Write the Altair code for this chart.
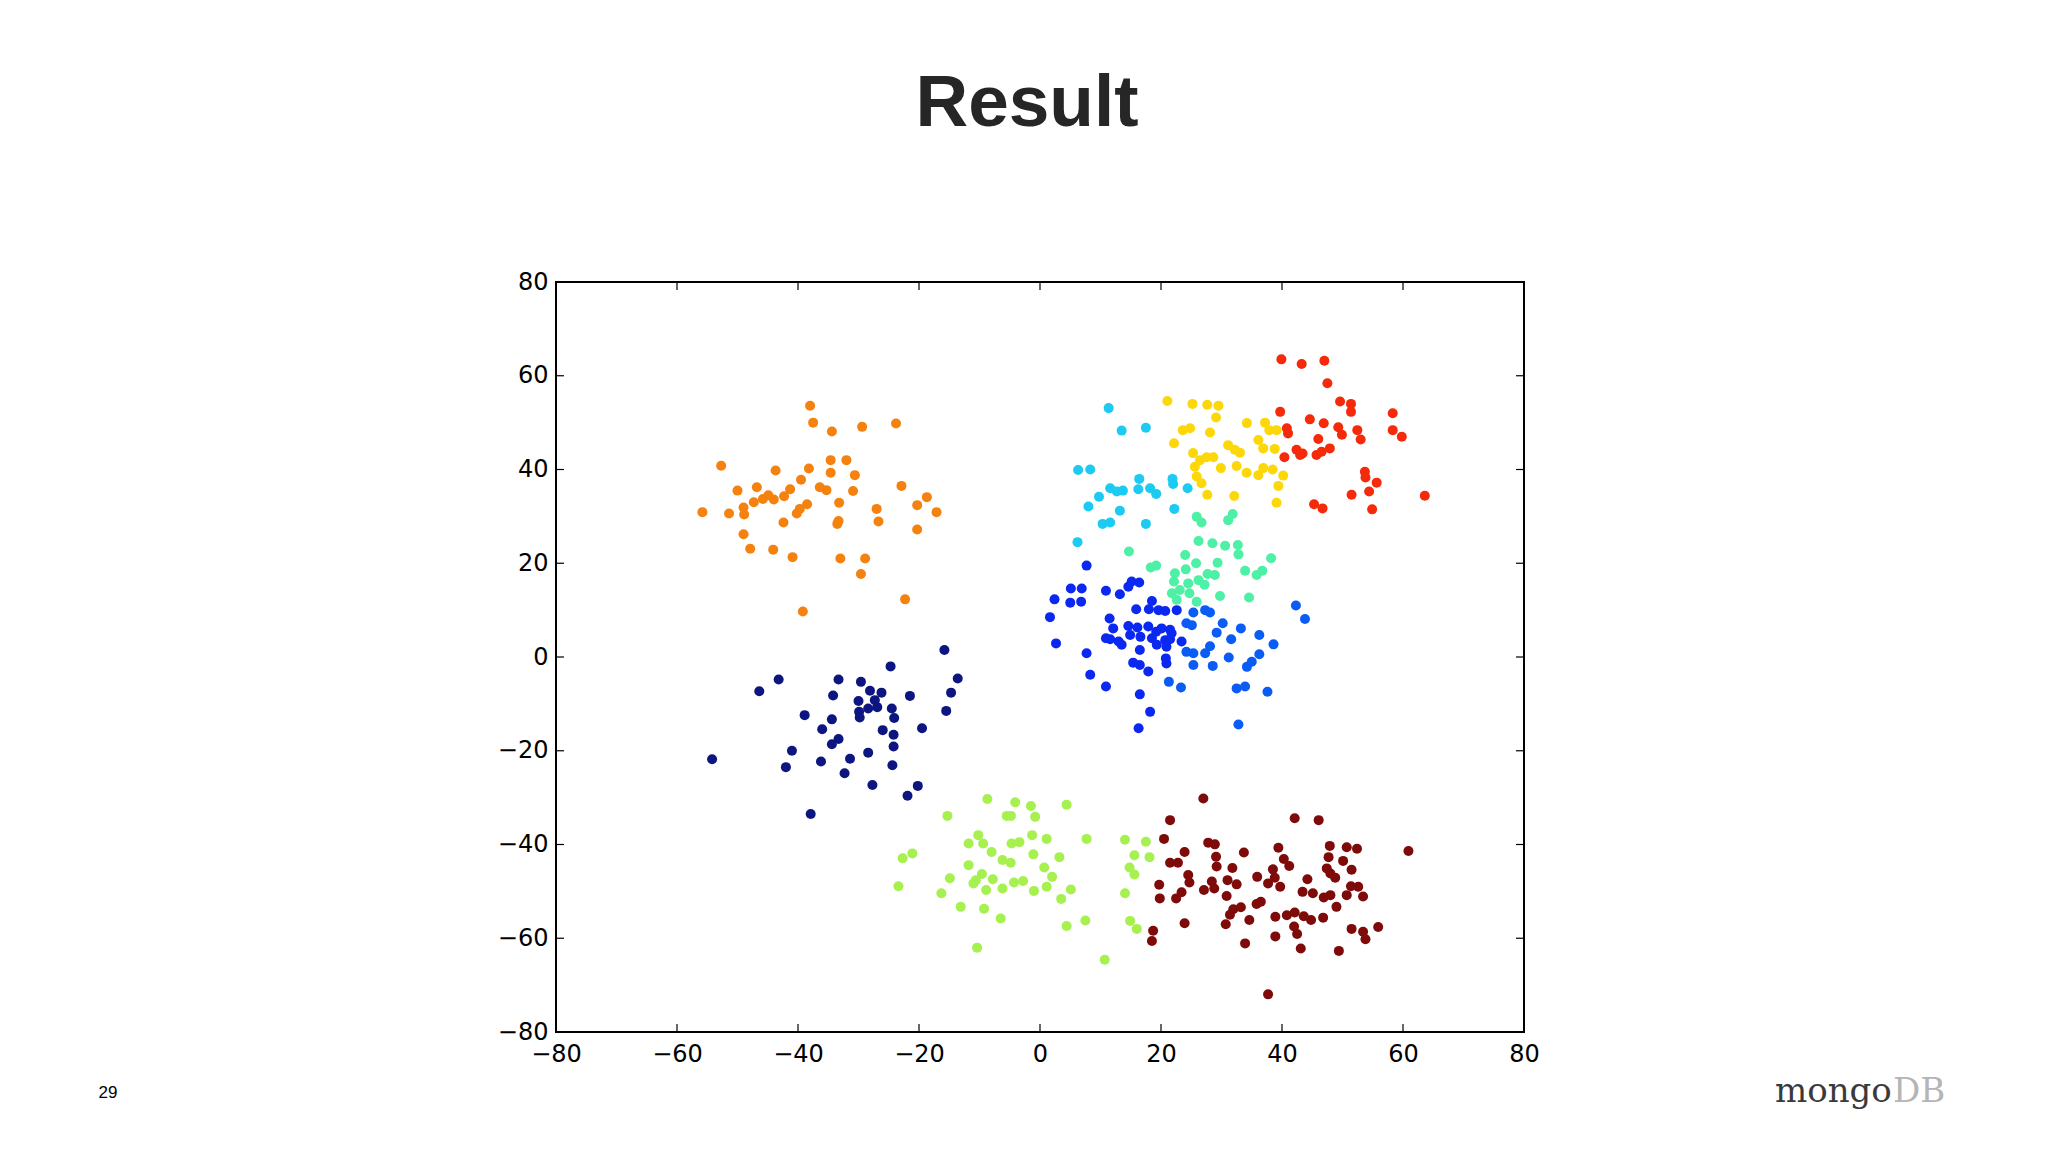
import altair as alt
import pandas as pd

# ---------------- data ----------------
navy_x = [-15.8, -24.7, -13.6, -14.7, -15.5, -43.2, -46.4, -33.3, -29.6, -34.2, -28.1, -26.2, -21.5, -30.0,
          -27.3, -28.4, -26.9, -29.9, -29.8, -24.5, -24.1, -38.9, -34.4, -36.0, -26.0, -19.5, -24.2, -24.2,
          -33.3, -34.4, -41.0, -42.0, -54.2, -36.2, -31.4, -28.4, -32.3, -24.4, -27.7, -20.2, -21.9, -37.9]
navy_y = [1.5, -2.0, -4.6, -7.6, -11.5, -4.8, -7.3, -4.8, -5.3, -8.2, -7.2, -7.6, -8.3, -9.4,
          -9.2, -11.0, -10.7, -11.7, -12.9, -11.0, -13.0, -12.4, -13.3, -15.4, -15.6, -15.2, -16.6, -19.1,
          -17.5, -18.6, -20.0, -23.5, -21.8, -22.3, -21.7, -20.4, -24.8, -23.1, -27.3, -27.5, -29.6, -33.5]

blue_x = [7.7, 5.1, 6.9, 2.4, 5.0, 6.8, 10.9, 1.65, 13.2, 14.6, 15.15, 16.4, 15.9, 18.5, 18.0, 19.6, 20.7,
          22.6, 2.65, 11.5, 12.1, 11.6, 10.9, 13.0, 14.6, 14.9, 16.1, 16.6, 17.9, 18.5, 19.2, 20.1, 21.5,
          20.7, 21.5, 21.75, 19.3, 20.9, 13.5, 16.5, 23.4, 7.7, 8.3, 10.9, 15.4, 16.5, 17.9, 16.5, 18.2,
          16.3, 20.8, 20.9]
blue_y = [19.5, 14.6, 14.6, 12.3, 11.6, 11.8, 14.15, 8.5, 13.4, 15.0, 16.1, 15.9, 10.2, 11.95, 10.2, 10.0, 9.8,
          10.0, 2.9, 8.2, 6.1, 3.8, 4.0, 3.3, 6.6, 4.7, 6.3, 4.3, 6.5, 4.0, 5.4, 6.1, 5.8,
          3.6, 3.8, 5.05, 2.6, 2.2, 2.6, 1.5, 3.3, 0.8, -3.8, -6.3, -1.2, -1.7, -3.1, -7.97, -11.7,
          -15.2, -0.3, -1.4]

mblue_x = [24.2, 25.1, 25.35, 27.3, 28.1, 30.2, 29.2, 33.2, 31.6, 36.25, 38.6, 24.2, 25.35, 28.1, 27.3,
           25.35, 28.55, 31.2, 34.2, 35.0, 36.25, 21.3, 23.3, 32.5, 33.9, 37.6, 32.8, 42.3, 43.8]
mblue_y = [7.2, 6.8, 9.5, 10.0, 9.5, 7.2, 5.2, 6.1, 3.8, 4.7, 2.7, 1.1, 0.8, 2.3, 0.8,
           -1.7, -1.9, -0.1, -2.1, -1.0, 0.6, -5.3, -6.5, -6.7, -6.3, -7.4, -14.4, 11.0, 8.1]

cyan_x = [11.35, 13.5, 17.5, 6.3, 8.3, 16.4, 21.9, 22.0, 24.4, 11.6, 12.7, 13.7, 16.25, 18.2, 19.2, 9.75,
          8.0, 13.2, 22.2, 10.35, 11.6, 17.5, 6.2]
cyan_y = [53.1, 48.3, 48.9, 39.9, 40.0, 38.0, 38.0, 36.9, 36.0, 36.0, 35.3, 35.5, 35.8, 36.0, 34.8, 34.2,
          32.1, 31.2, 31.6, 28.4, 28.7, 28.4, 24.5]

aqua_x = [25.9, 26.7, 31.85, 31.1, 26.2, 28.5, 30.6, 32.7, 32.8, 38.2, 14.7, 24.0, 18.3, 19.2, 25.8, 29.35,
          33.9, 35.8, 36.75, 24.1, 22.3, 27.7, 28.9, 22.15, 24.5, 26.2, 27.2, 23.1, 24.7, 21.8, 22.6,
          29.75, 34.55, 25.9]
aqua_y = [29.9, 28.7, 30.5, 29.2, 24.75, 24.25, 23.75, 23.9, 21.9, 21.05, 22.5, 21.75, 19.1, 19.5, 20.0, 20.1,
          18.4, 17.5, 18.4, 18.7, 17.85, 17.7, 17.5, 16.1, 15.7, 16.4, 15.4, 14.3, 13.6, 13.6, 12.2,
          13.0, 12.7, 11.8]

lgreen_x = [-8.7, -4.1, -1.5, 4.4, -15.3, -5.5, -4.8, -0.8, -10.2, -11.8, -9.4, -4.7, -3.4, -1.3, 1.1, 7.7,
            14.05, 17.5, -8.0, -6.2, -4.85, -1.1, 3.2, -22.7, -21.1, 15.6, 18.1, -11.8, 0.7, 14.8, 15.6,
            -14.9, -9.6, -10.6, -11.0, -7.8, 2.0, -4.3, -2.8, -23.4, -16.3, -8.9, -6.2, -1.0, 1.1, 5.1,
            14.05, 3.5, -13.1, -9.25, -6.5, 7.5, 4.4, 14.9, 16.0, -10.4, 10.7]
lgreen_y = [-30.3, -31.0, -31.8, -31.5, -33.9, -33.9, -33.9, -34.1, -38.0, -39.8, -39.8, -39.8, -39.5, -38.0,
            -38.8, -38.8, -39.0, -39.4, -41.6, -43.3, -43.9, -42.1, -42.7, -42.95, -41.9, -42.3, -42.7,
            -44.4, -44.9, -44.9, -46.4, -47.2, -46.3, -47.6, -48.3, -47.4, -46.9, -48.1, -47.8, -48.9,
            -50.4, -49.7, -49.4, -49.9, -49.0, -49.6, -50.4, -51.6, -53.3, -53.7, -55.8, -56.2, -57.4,
            -56.3, -58.0, -62.0, -64.6]

yellow_x = [21.05, 25.2, 27.65, 29.5, 29.1, 34.2, 37.2, 37.9, 39.1, 23.6, 24.8, 28.1, 22.15, 36.1, 36.9,
            38.8, 31.1, 32.2, 33.05, 25.3, 26.45, 27.55, 28.65, 25.6, 29.9, 32.5, 34.15, 36.1, 36.9, 38.45,
            40.2, 25.9, 26.7, 39.4, 27.65, 32.1, 39.1]
yellow_y = [54.6, 54.0, 53.8, 53.6, 51.1, 49.9, 50.0, 48.4, 48.4, 48.4, 48.8, 47.9, 45.6, 46.3, 44.5,
            44.4, 45.2, 44.2, 43.6, 43.5, 42.0, 42.6, 42.6, 40.6, 40.3, 40.75, 39.3, 38.8, 40.3, 40.0,
            38.7, 38.5, 37.05, 36.5, 34.6, 34.35, 32.9]

orange_x = [-38.0, -37.5, -34.4, -29.4, -23.8, -52.7, -43.7, -38.2, -34.6, -32.0, -34.6, -30.6, -39.5,
            -50.0, -46.8, -22.9, -41.3, -36.4, -35.3, -30.9, -42.3, -44.9, -44.0, -45.8, -47.3, -49.0,
            -48.9, -55.8, -51.4, -38.5, -39.7, -40.2, -33.2, -33.3, -33.5, -27.0, -26.7, -20.3, -18.7,
            -17.1, -20.3, -42.4, -49.0, -47.9, -44.1, -40.9, -33.0, -28.9, -29.6, -22.3, -39.2]
orange_y = [53.6, 50.0, 48.1, 49.1, 49.8, 40.8, 39.8, 40.2, 42.0, 42.0, 39.3, 38.8, 37.8,
            35.5, 36.2, 36.5, 35.8, 36.2, 35.6, 35.4, 34.3, 34.5, 33.6, 33.7, 33.0, 31.9,
            30.4, 30.9, 30.6, 32.6, 31.6, 30.6, 32.9, 29.0, 28.4, 31.6, 28.9, 32.4, 34.1,
            30.9, 27.2, 28.7, 26.2, 23.1, 22.9, 21.3, 21.0, 21.0, 17.7, 12.3, 9.7]

red_x = [39.9, 43.25, 47.0, 47.5, 49.6, 51.4, 51.4, 58.3, 39.7, 44.6, 46.9, 49.3, 49.9, 52.45, 53.0, 40.8,
         41.0, 58.3, 59.8, 46.0, 47.9, 42.4, 43.4, 43.0, 45.7, 46.55, 40.4, 53.7, 53.8, 55.65, 54.4, 51.5,
         63.6, 45.3, 46.7, 54.9]
red_y = [63.5, 62.5, 63.2, 58.4, 54.5, 54.0, 52.3, 52.0, 52.3, 50.7, 49.85, 49.0, 47.4, 48.4, 46.4, 48.8,
         47.7, 48.4, 47.0, 46.5, 44.5, 44.2, 43.4, 43.1, 43.1, 43.8, 42.6, 39.5, 38.3, 37.2, 35.3, 34.6,
         34.4, 32.6, 31.7, 31.5]

maroon_x = [27.0, 21.5, 42.1, 46.06, 20.5, 27.8, 28.9, 23.9, 33.7, 39.4, 47.9, 50.7, 52.4, 60.9, 21.5, 22.8,
            29.1, 29.2, 40.3, 41.2, 47.7, 50.1, 51.5, 31.8, 38.5, 47.4, 48.0, 48.8, 24.5, 35.9, 19.7, 24.7,
            28.4, 31.0, 38.8, 44.2, 27.1, 32.5, 37.7, 39.7, 19.8, 22.5, 23.4, 28.8, 30.85, 43.4, 45.1,
            46.9, 48.0, 51.4, 52.6, 50.7, 53.4, 35.8, 36.5, 49.0, 31.95, 33.2, 31.4, 34.6, 30.7, 23.9,
            38.9, 40.8, 42.1, 43.6, 44.8, 46.8, 42.0, 42.5, 51.5, 53.4, 53.8, 55.9, 18.7, 18.5, 33.9,
            38.9, 43.1, 49.4, 37.7]
maroon_y = [-30.2, -34.8, -34.4, -34.8, -38.8, -39.6, -39.97, -41.6, -41.7, -40.7, -40.3, -40.6, -40.9,
            -41.4, -43.9, -43.9, -42.6, -44.7, -43.1, -44.6, -42.7, -43.5, -45.4, -45.0, -45.3, -45.1,
            -46.2, -47.1, -46.5, -46.9, -48.6, -48.1, -47.9, -47.6, -47.1, -47.4, -49.7, -48.5, -48.3,
            -49.0, -51.5, -51.5, -50.2, -49.4, -51.0, -50.1, -50.4, -51.3, -50.8, -48.9, -49.0, -50.8,
            -51.1, -52.7, -52.2, -53.3, -53.8, -53.4, -55.0, -56.1, -57.0, -56.8, -55.4, -55.1, -54.5,
            -55.3, -56.1, -55.6, -57.5, -59.1, -58.0, -58.6, -60.2, -57.6, -58.4, -60.6, -61.1, -59.6,
            -62.2, -62.7, -71.97]

cluster_names = ["navy", "blue", "mblue", "cyan", "aqua", "lgreen", "yellow", "orange", "red", "maroon"]
cluster_colors = ["#0d1580", "#0a28f0", "#0a5cf5", "#1ccaf2", "#4ef0a6", "#a6f050", "#fcd70a",
                  "#f5820f", "#f52a0a", "#7f0a0a"]
cluster_data = [(navy_x, navy_y), (blue_x, blue_y), (mblue_x, mblue_y), (cyan_x, cyan_y),
                (aqua_x, aqua_y), (lgreen_x, lgreen_y), (yellow_x, yellow_y), (orange_x, orange_y),
                (red_x, red_y), (maroon_x, maroon_y)]

tick_values = [-80, -60, -40, -20, 0, 20, 40, 60, 80]
inner_ticks = [-60, -40, -20, 0, 20, 40, 60]

rows = []
for name, (xs, ys) in zip(cluster_names, cluster_data):
    for xv, yv in zip(xs, ys):
        rows.append({"cluster": name, "x": xv, "y": yv})
df = pd.DataFrame(rows)
ticks_df = pd.DataFrame({"x": inner_ticks, "y": inner_ticks})

W, H = 968, 750
TL = 8
xscale = alt.Scale(domain=[-80, 80], nice=False, zero=False)
yscale = alt.Scale(domain=[-80, 80], nice=False, zero=False)

axis_common = dict(values=tick_values, title=None, tickSize=0, domain=False, grid=False,
                   labelFont="DejaVu Sans", labelFontSize=24, labelColor="black",
                   labelFlush=False, labelOverlap=False)
xaxis = alt.Axis(labelPadding=10, **axis_common)
yaxis = alt.Axis(labelPadding=8, **axis_common)

points = alt.Chart(df).mark_circle(size=100, opacity=1).encode(
    x=alt.X("x:Q", scale=xscale, axis=xaxis),
    y=alt.Y("y:Q", scale=yscale, axis=yaxis),
    color=alt.Color("cluster:N", scale=alt.Scale(domain=cluster_names, range=cluster_colors), legend=None),
)

tick_style = dict(color="black", strokeWidth=1.2)
bottom_ticks = alt.Chart(ticks_df).mark_rule(**tick_style).encode(
    x=alt.X("x:Q", scale=xscale, axis=xaxis), y=alt.value(H), y2=alt.value(H - TL))
top_ticks = alt.Chart(ticks_df).mark_rule(**tick_style).encode(
    x=alt.X("x:Q", scale=xscale, axis=xaxis), y=alt.value(0), y2=alt.value(TL))
left_ticks = alt.Chart(ticks_df).mark_rule(**tick_style).encode(
    y=alt.Y("y:Q", scale=yscale, axis=yaxis), x=alt.value(0), x2=alt.value(TL))
right_ticks = alt.Chart(ticks_df).mark_rule(**tick_style).encode(
    y=alt.Y("y:Q", scale=yscale, axis=yaxis), x=alt.value(W), x2=alt.value(W - TL))

title = alt.Chart().mark_text(text="Result", font="Liberation Sans", fontWeight="bold", fontSize=73,
                              color="#262626", align="center", baseline="alphabetic").encode(
    x=alt.value(471), y=alt.value(-156))
page = alt.Chart().mark_text(text="29", font="Liberation Sans", fontSize=17, color="black",
                             align="center", baseline="alphabetic").encode(
    x=alt.value(-448), y=alt.value(816))
logo1 = alt.Chart().mark_text(text="mongo", font="DejaVu Serif", fontSize=34, color="#3a3a3a",
                              align="left", baseline="alphabetic").encode(
    x=alt.value(1219), y=alt.value(820))
logo2 = alt.Chart().mark_text(text="DB", font="DejaVu Serif", fontSize=34, color="#b5b5b5",
                              align="left", baseline="alphabetic").encode(
    x=alt.value(1337), y=alt.value(820))

chart = alt.layer(points, bottom_ticks, top_ticks, left_ticks, right_ticks, title, page, logo1, logo2).properties(
    width=W, height=H,
    padding={"left": 548, "top": 274, "right": 500, "bottom": 110},
    autosize=alt.AutoSizeParams(type="none"),
    background="white",
).configure_view(stroke="black", strokeWidth=2)

chart.save("out.html", embed_options={"renderer": "svg", "actions": False})
